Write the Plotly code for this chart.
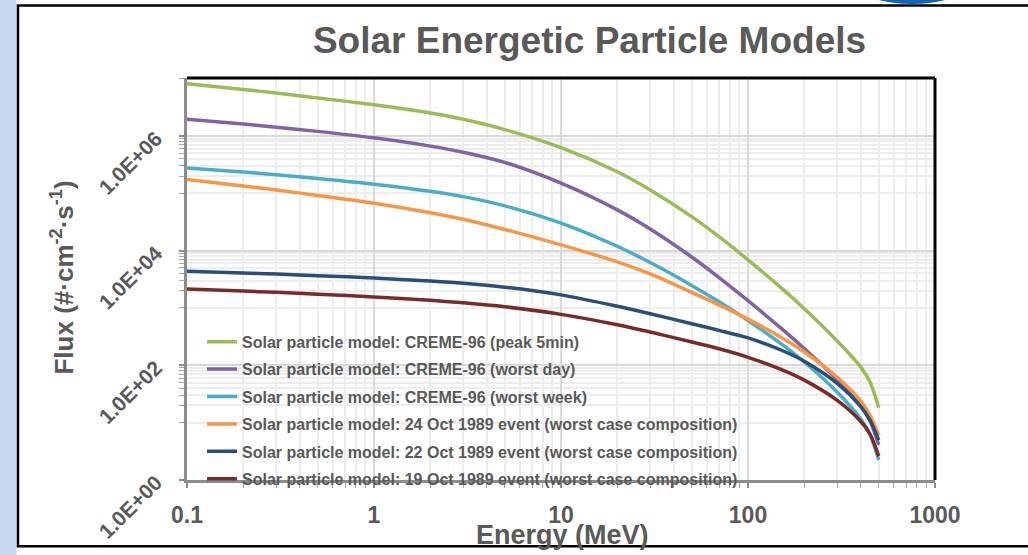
import plotly.graph_objects as go

# ---------------- data ----------------
energy_mev = [0.1, 0.2, 0.3, 0.5, 1, 2, 3, 5, 10, 20, 30, 50, 70, 100, 150, 200, 300, 400, 450, 500]

creme_peak_5min = [8.13e6, 6.46e6, 5.58e6, 4.60e6, 3.49e6, 2.51e6, 1.95e6, 1.29e6, 6.25e5, 2.37e5,
                   1.14e5, 3.91e4, 1.75e4, 6.90e3, 2.26e3, 968, 265, 94.0, 50.5, 18.2]
creme_worst_day = [1.95e6, 1.61e6, 1.42e6, 1.20e6, 9.25e5, 6.64e5, 5.20e5, 3.45e5, 1.50e5, 5.13e4,
                   2.38e4, 7.73e3, 3.39e3, 1.34e3, 445, 196, 55.7, 19.8, 10.6, 4.09]
creme_worst_week = [2.75e5, 2.35e5, 2.11e5, 1.81e5, 1.44e5, 1.08e5, 8.73e4, 6.04e4, 3.02e4, 1.19e4,
                    6.19e3, 2.47e3, 1.28e3, 605, 238, 114, 33.9, 11.7, 6.11, 2.23]
oct24_1989 = [1.74e5, 1.34e5, 1.14e5, 9.18e4, 6.71e4, 4.58e4, 3.52e4, 2.34e4, 1.26e4, 6.37e3,
              3.92e3, 1.87e3, 1.13e3, 638, 308, 171, 61.9, 24.0, 13.3, 6.03]
oct22_1989 = [4.37e3, 4.07e3, 3.90e3, 3.66e3, 3.33e3, 2.94e3, 2.69e3, 2.30e3, 1.69e3, 1.07e3,
              793, 532, 406, 300, 185, 118, 48.4, 19.3, 11.0, 4.95]
oct19_1989 = [2.14e3, 1.97e3, 1.87e3, 1.74e3, 1.56e3, 1.36e3, 1.23e3, 1.05e3, 773, 509,
              380, 255, 194, 138, 84.9, 55.2, 24.5, 10.6, 6.27, 2.61]

series_names = [
    "Solar particle model: CREME-96 (peak 5min)",
    "Solar particle model: CREME-96 (worst day)",
    "Solar particle model: CREME-96 (worst week)",
    "Solar particle model: 24 Oct 1989 event (worst case composition)",
    "Solar particle model: 22 Oct 1989 event (worst case composition)",
    "Solar particle model: 19 Oct 1989 event (worst case composition)",
]
series_values = [creme_peak_5min, creme_worst_day, creme_worst_week,
                 oct24_1989, oct22_1989, oct19_1989]
series_colors = ["#9BBB59", "#8064A2", "#4BACC6", "#F79646", "#2C4D75", "#772C2A"]

x_tick_vals = [0.1, 1, 10, 100, 1000]
x_tick_text = ["0.1", "1", "10", "100", "1000"]
y_tick_vals = [1, 1e2, 1e4, 1e6]
y_tick_text = ["1.0E+00", "1.0E+02", "1.0E+04", "1.0E+06"]

title_text = "Solar Energetic Particle Models"
x_title = "Energy (MeV)"
y_title = "Flux (#·cm<sup>-2</sup>·s<sup>-1</sup>)"

# ---------------- axis minor positions ----------------
x_minor = [k * 10 ** n for n in range(-1, 3) for k in range(2, 10)]
y_minor = [k * 10 ** n for n in (1, 3, 5, 7) for k in range(1, 10)]

TXT = "#595959"
FONT = "Arial, Liberation Sans, sans-serif"

fig = go.Figure()
for i, (name, vals, col) in enumerate(zip(series_names, series_values, series_colors)):
    fig.add_trace(go.Scatter(
        x=energy_mev, y=vals, name=name, mode="lines", legendgroup="g%d" % i,
        line=dict(color=col, width=3.5, shape="spline", smoothing=0.8),
    ))

W, H = 1028, 555
L, R, T, B = 187, 935, 78, 485


def px(x):
    return (x - L) / (R - L)


def py(y):
    return (B - y) / (B - T)


shapes = [
    # light blue strip on the left
    dict(type="rect", xref="paper", yref="paper", x0=px(-5), x1=px(16.5), y0=py(600), y1=py(-10),
         fillcolor="#C6D9F1", line=dict(width=0), layer="below"),
    # outer black frame
    dict(type="rect", xref="paper", yref="paper", x0=px(18), x1=px(1060), y0=py(552), y1=py(4.5),
         line=dict(color="black", width=2.5), fillcolor="rgba(0,0,0,0)"),
    # blue rounded tab at the top
    dict(type="circle", xref="paper", yref="paper", x0=px(862), x1=px(962), y0=py(3.2), y1=py(-30),
         fillcolor="#1565B5", line=dict(width=0)),
    # plot area top and right black edges
    dict(type="line", xref="paper", yref="paper", x0=0, x1=1, y0=1, y1=1,
         line=dict(color="black", width=3)),
    dict(type="line", xref="paper", yref="paper", x0=1, x1=1, y0=0, y1=1,
         line=dict(color="black", width=3)),
]

annotations = [
    dict(text="<b>" + x_title + "</b>", xref="paper", yref="paper", x=px(562), y=py(541),
         showarrow=False, xanchor="center", yanchor="middle",
         font=dict(size=27, color=TXT, family=FONT)),
    dict(text="<b>" + y_title + "</b>", xref="paper", yref="paper", x=px(63), y=py(280),
         showarrow=False, xanchor="center", yanchor="middle", textangle=-90,
         font=dict(size=26, color=TXT, family=FONT)),
]

fig.update_layout(
    width=W, height=H,
    margin=dict(l=L, r=W - R, t=T, b=H - B, pad=0),
    paper_bgcolor="white", plot_bgcolor="white",
    title=dict(text="<b>" + title_text + "</b>", x=589.5 / W, xref="container", xanchor="center",
               y=1 - 40 / H, yref="container", yanchor="middle",
               font=dict(size=37, color=TXT, family=FONT)),
    font=dict(family=FONT, color=TXT),
    showlegend=True,
    legend=dict(x=px(202), y=py(501), xanchor="left", yanchor="bottom",
                bgcolor="rgba(0,0,0,0)", borderwidth=0,
                font=dict(size=16, color=TXT, family=FONT, weight="bold"),
                traceorder="grouped", tracegroupgap=3.6),
    shapes=shapes,
    annotations=annotations,
)

fig.update_xaxes(
    type="log", range=[-1, 3],
    tickmode="array", tickvals=x_tick_vals, ticktext=x_tick_text,
    tickfont=dict(size=23, color=TXT, family=FONT, weight="bold"),
    ticks="outside", ticklen=5, tickwidth=1.5, tickcolor="#8C8C8C",
    ticklabelstandoff=8,
    showline=True, linecolor="#8C8C8C", linewidth=2.5,
    showgrid=True, gridcolor="#D9D9D9", gridwidth=2,
    zeroline=False,
    minor=dict(tickmode="array", tickvals=x_minor, showgrid=True, gridcolor="#EDEDED", gridwidth=1.5,
               ticks="outside", ticklen=5, tickwidth=1, tickcolor="#A6A6A6"),
)
fig.update_yaxes(
    type="log", range=[0, 7.01],
    tickmode="array", tickvals=y_tick_vals, ticktext=y_tick_text,
    tickangle=-45,
    tickfont=dict(size=21, color=TXT, family=FONT, weight="bold"),
    ticks="outside", ticklen=5, tickwidth=1.5, tickcolor="#8C8C8C",
    ticklabelstandoff=19,
    showline=True, linecolor="#8C8C8C", linewidth=2.5,
    showgrid=True, gridcolor="#D9D9D9", gridwidth=2,
    zeroline=False,
    minor=dict(tickmode="array", tickvals=y_minor, showgrid=True, gridcolor="#EDEDED", gridwidth=1.5,
               ticks="outside", ticklen=5, tickwidth=1, tickcolor="#A6A6A6"),
)

fig.write_html("out.html", config={"displayModeBar": False},
               post_script="document.body.style.margin='0px';")
